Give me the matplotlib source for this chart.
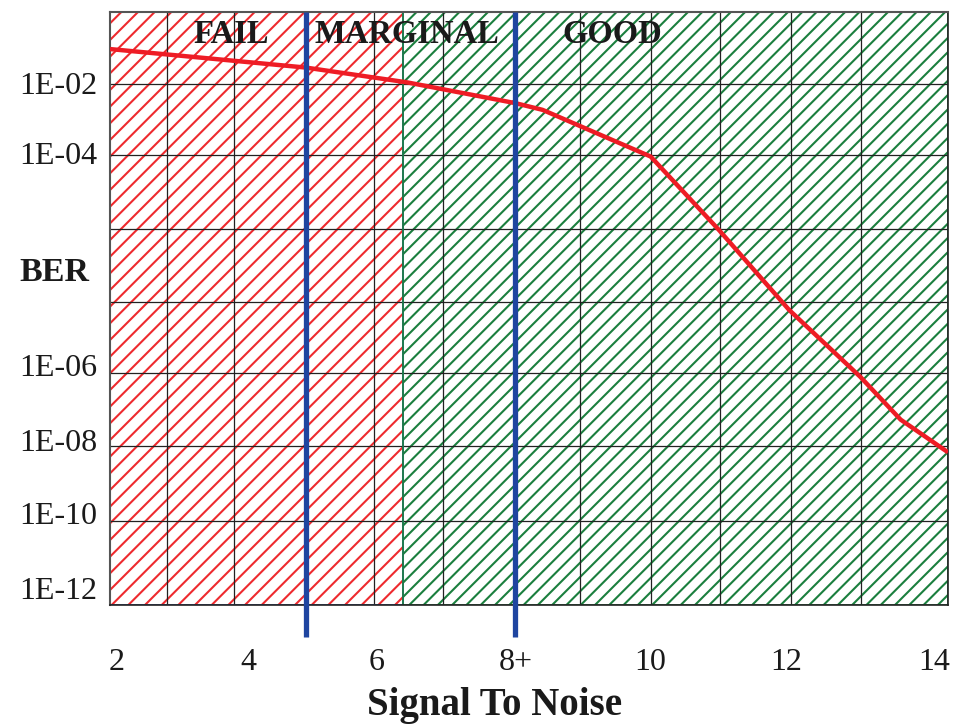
import matplotlib
matplotlib.use('Agg')
import matplotlib.pyplot as plt
from matplotlib.patches import Rectangle
from matplotlib.backend_bases import GraphicsContextBase

plt.rcParams['font.family'] = ['Liberation Serif', 'DejaVu Serif']
plt.rcParams['hatch.linewidth'] = 1.5

# green hatch is a little denser than the red one in the original
_hatch_path = GraphicsContextBase.get_hatch_path
def _zone_hatch(self, density=6.0):
    r, g, b = self.get_hatch_color()[:3]
    return _hatch_path(self, 7.0 if g > r else 6.0)
GraphicsContextBase.get_hatch_path = _zone_hatch

# BER curve, y is in grid rows (0 = bottom of chart)
snr = [2.0, 4.9, 6.4, 8.0, 8.4, 10.0, 11.0, 12.05, 13.1, 13.7, 14.4]
ber_row = [7.5, 7.25, 7.05, 6.77, 6.68, 6.05, 5.07, 3.98, 3.08, 2.5, 2.06]

x_ticks = [2.1, 4.05, 5.95, 8.0, 10.0, 12.0, 14.2]
x_labels = ['2', '4', '6', '8+', '10', '12', '14']
y_ticks = [0.23, 1.24, 2.23, 3.24, 6.1, 7.04]
y_labels = ['1E-12', '1E-10', '1E-08', '1E-06', '1E-04', '1E-02']

grid_x = [2.84, 3.83, 4.9, 5.91, 6.93, 8.0, 8.95, 10.0, 11.02, 12.07, 13.12]
grid_y = [1.13, 2.15, 3.13, 4.09, 5.07, 6.07, 7.03]

zones = ['FAIL', 'MARGINAL', 'GOOD']
zone_x = [3.79, 6.39, 9.43]
red_end = 6.33      # where the red hatch stops
limits = [4.9, 8.0]  # blue lines

x0, x1 = 2.0, 14.4
y0, y1 = 0.0, 8.0

fig = plt.figure(figsize=(9.66, 7.24), dpi=100)
ax = fig.add_axes([110/966, 1-605/724, 838/966, 593/724])
ax.set_xlim(x0, x1)
ax.set_ylim(y0, y1)

# hatched zones
ax.axvspan(x0, red_end, facecolor='white', edgecolor='#ee2a2e', hatch='//', lw=0, zorder=0)
ax.axvspan(red_end, x1, facecolor='white', edgecolor='#1b7f3e', hatch='//', lw=0, zorder=0)
ax.add_patch(Rectangle((x0, y0), red_end-x0, y1-y0, fill=False, ec='#2a4ea8', lw=1.2, zorder=2))
ax.add_patch(Rectangle((red_end, y0), x1-red_end, y1-y0, fill=False, ec='#1b7f3e', lw=1.2, zorder=2))

for gx in grid_x:
    ax.axvline(gx, color='#222222', lw=0.9, zorder=1)
for gy in grid_y:
    ax.axhline(gy, color='#222222', lw=0.9, zorder=1)

ax.plot(snr, ber_row, color='#ee1c25', lw=3.2, zorder=3, solid_capstyle='butt')

for lx in limits:
    ax.plot([lx, lx], [y1, -0.43], color='#1f45a0', lw=3.8, zorder=4,
            clip_on=False, solid_capstyle='butt')

for name, zx in zip(zones, zone_x):
    ax.text(zx, 7.69, name, ha='center', va='center', fontsize=23.5,
            fontweight='bold', color='#1a1a1a', zorder=5)

for s in ['left', 'top']:
    ax.spines[s].set_color('#555555')
    ax.spines[s].set_linewidth(1.5)
for s in ['bottom', 'right']:
    ax.spines[s].set_color('#222222')
    ax.spines[s].set_linewidth(1.2)

ax.set_xticks(x_ticks, x_labels, fontsize=23, color='#1a1a1a')
ax.set_yticks(y_ticks, y_labels, fontsize=23, color='#1a1a1a')
ax.tick_params(axis='x', length=0, pad=31)
ax.tick_params(axis='y', length=0, pad=9)

ax.text(-0.066, 4.48, 'BER', transform=ax.get_yaxis_transform(), ha='center', va='center',
        fontsize=24.5, fontweight='bold', color='#1a1a1a')
fig.text(495/966, 1-706/724, 'Signal To Noise', ha='center', va='center',
         fontsize=28, fontweight='bold', color='#1a1a1a')

fig.savefig('out.png', dpi=100)
